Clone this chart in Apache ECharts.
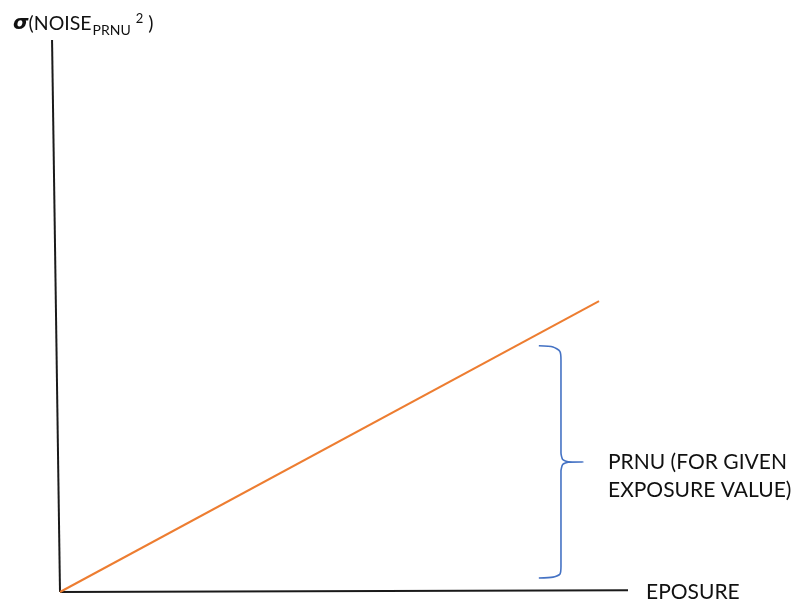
<!DOCTYPE html>
<html><head><meta charset="utf-8">
<script src="https://cdn.jsdelivr.net/npm/echarts@6/dist/echarts.min.js"></script>
<style>html,body{margin:0;padding:0;background:#fff}#c{width:791px;height:607px}</style>
</head><body><div id="c"></div>
<script>
// data (in chart units)
const prnuLine = [[0, 0], [94.9, 52.7]];
const yAxisLine = [[-1.4, 100], [0, 0]];
const xAxisLine = [[0, 0], [100, 0.3]];
const brace = [[84.3, 44.6], [86.8, 44.4], [88.0, 43.6], [88.2, 42.0], [88.2, 25.2], [88.5, 24.0], [89.5, 23.6], [92.1, 23.55],
               [89.5, 23.5], [88.5, 23.1], [88.2, 21.9], [88.2, 4.6], [88.0, 3.2], [86.8, 2.7], [84.3, 2.54]];
const xName = 'EPOSURE';
const braceLabel = ['PRNU (FOR GIVEN', 'EXPOSURE VALUE)'];

const chart = echarts.init(document.getElementById('c'));
const FONT = 'Lato';
chart.setOption({
  animation: false,
  grid: { left: 48.64, top: 40, width: 579.36, height: 552 },
  xAxis: {
    type: 'value', min: -2, max: 100,
    axisLine: { show: false },
    axisTick: { show: false }, axisLabel: { show: false }, splitLine: { show: false },
    name: xName, nameLocation: 'end', nameGap: 18,
    nameTextStyle: { fontFamily: FONT, fontSize: 21, color: '#111', verticalAlign: 'middle', align: 'left' }
  },
  yAxis: {
    type: 'value', min: 0, max: 100,
    axisLine: { show: false }, axisTick: { show: false }, axisLabel: { show: false }, splitLine: { show: false }
  },
  graphic: [
    {
      type: 'text', left: 13, top: 8,
      style: {
        text: '{s|σ}{n|(NOISE}{sub|PRNU}{sup|2}{n| )}',
        rich: {
          s: { fontFamily: 'DejaVu Sans', fontSize: 20, fontWeight: 'bold', fontStyle: 'italic', fill: '#111', lineHeight: 26, verticalAlign: 'bottom' },
          n: { fontFamily: FONT, fontSize: 19.5, fill: '#111', lineHeight: 26, verticalAlign: 'bottom' },
          sub: { fontFamily: FONT, fontSize: 14, fill: '#111', lineHeight: 26, verticalAlign: 'bottom', padding: [0, 0, -3, 1] },
          sup: { fontFamily: FONT, fontSize: 13, fill: '#111', lineHeight: 26, verticalAlign: 'top', padding: [4, 0, 0, 5] }
        }
      }
    },
    {
      type: 'text', left: 608, top: 448,
      style: { text: braceLabel.join('\n'), fontFamily: FONT, fontSize: 21, lineHeight: 28, fill: '#111' }
    }
  ],
  series: [
    { type: 'line', data: yAxisLine, symbol: 'none', lineStyle: { color: '#1a1a1a', width: 2 }, silent: true },
    { type: 'line', data: xAxisLine, symbol: 'none', lineStyle: { color: '#1a1a1a', width: 2 }, silent: true },
    { type: 'line', data: prnuLine, symbol: 'none', lineStyle: { color: '#ED7D31', width: 2 }, silent: true },
    { type: 'line', data: brace, symbol: 'none', smooth: 0.2, lineStyle: { color: '#4472C4', width: 1.6 }, silent: true }
  ]
});
</script></body></html>
